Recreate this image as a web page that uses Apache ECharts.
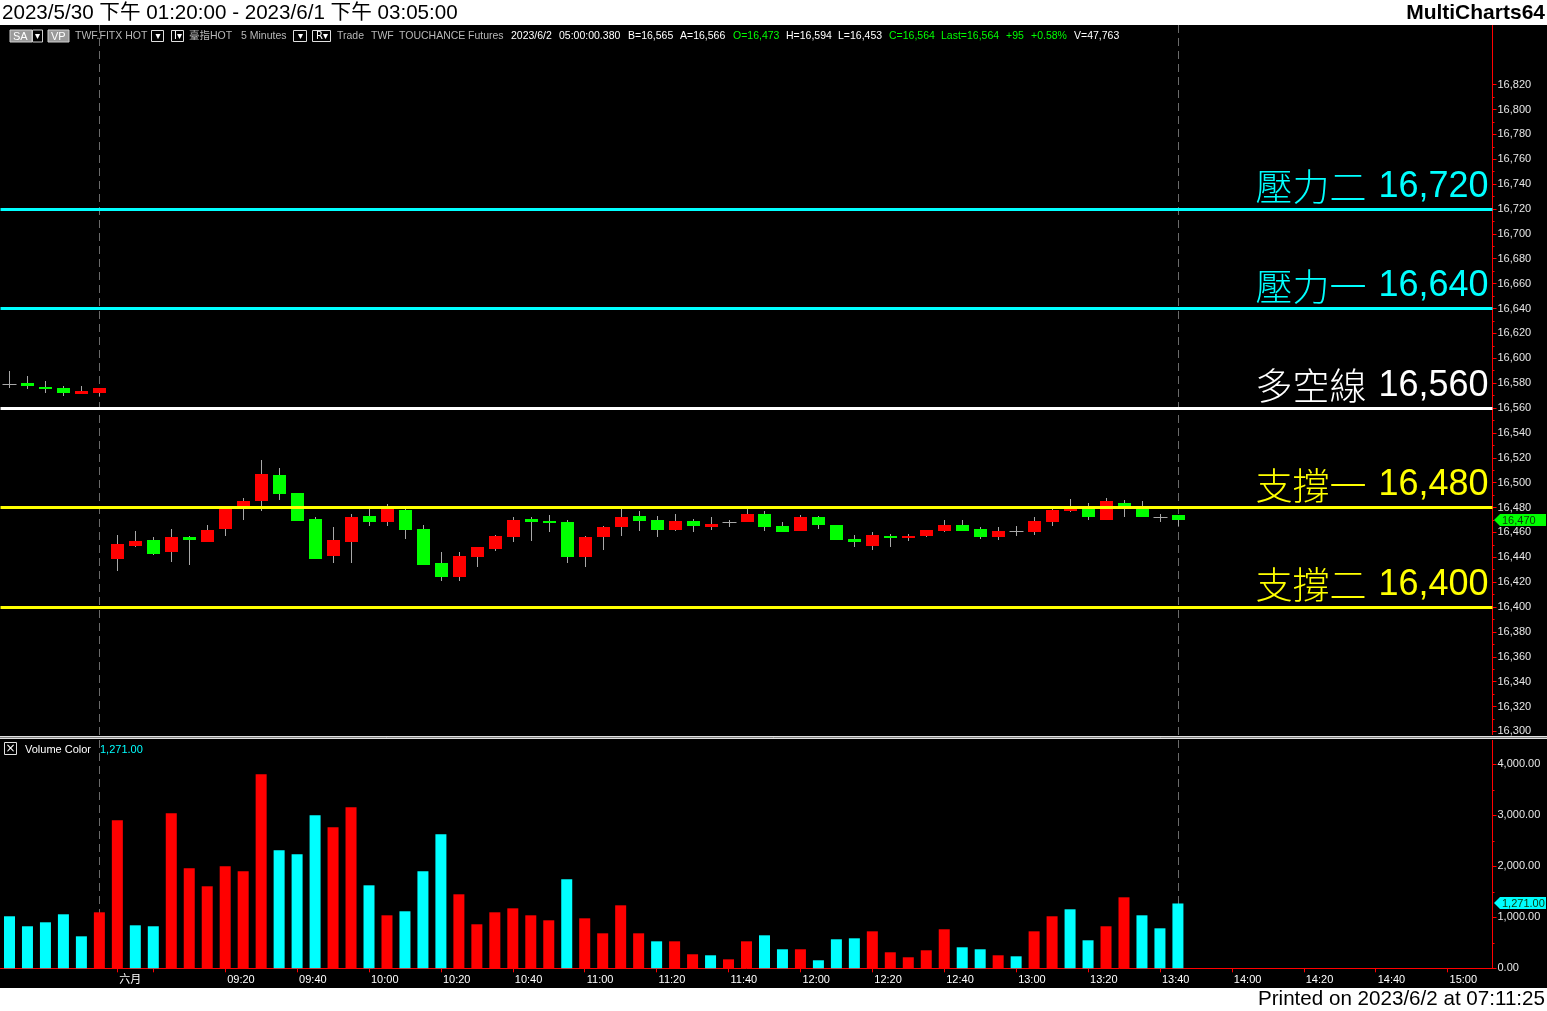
<!DOCTYPE html>
<html><head><meta charset="utf-8">
<script src="https://cdn.jsdelivr.net/npm/echarts@6/dist/echarts.min.js"></script>
<style>html,body{margin:0;padding:0;background:#fff;overflow:hidden}#c{width:1547px;height:1011px}</style>
</head><body><div id="c"></div>
<script>
// ---------------- data ----------------
const categories = [
  '13:20','13:25','13:30','13:35','13:40','13:45',
  '08:50','08:55','09:00','09:05','09:10','09:15','09:20','09:25','09:30','09:35',
  '09:40','09:45','09:50','09:55','10:00','10:05','10:10','10:15','10:20','10:25',
  '10:30','10:35','10:40','10:45','10:50','10:55','11:00','11:05','11:10','11:15',
  '11:20','11:25','11:30','11:35','11:40','11:45','11:50','11:55','12:00','12:05',
  '12:10','12:15','12:20','12:25','12:30','12:35','12:40','12:45','12:50','12:55',
  '13:00','13:05','13:10','13:15','13:20','13:25','13:30','13:35','13:40','13:45',
  '13:50','13:55','14:00','14:05','14:10','14:15','14:20','14:25','14:30','14:35',
  '14:40','14:45','14:50','14:55','15:00','15:05','15:10'
];
const opens  = [16579,16580,16577,16576,16571,16572,
  16439,16449,16454,16444,16456,16452,16463,16480,16485,16506,16492,16471,16441,16452,
  16473,16468,16478,16463,16435,16424,16440,16447,16456,16471,16469,16468,16440,16456,
  16464,16473,16470,16462,16469,16464,16468,16468,16475,16465,16461,16472,16466,16455,
  16449,16457,16456,16457,16461,16466,16463,16456,16461,16460,16468,16477,16481,16470,
  16484,16480,16472,16474];
const closes = [16579,16578,16575,16572,16574,16576,
  16451,16453,16443,16456,16454,16462,16480,16485,16507,16491,16469,16439,16454,16472,
  16468,16479,16462,16434,16424,16441,16448,16457,16470,16468,16468,16440,16456,16464,
  16472,16469,16462,16469,16465,16467,16468,16475,16464,16460,16472,16466,16454,16452,
  16458,16456,16457,16462,16466,16461,16456,16461,16461,16469,16478,16480,16472,16485,
  16481,16472,16472,16470];
const lows   = [16576,16575,16572,16570,16571,16570,
  16429,16448,16442,16436,16434,16452,16457,16470,16477,16486,16469,16439,16435,16435,
  16465,16465,16455,16434,16421,16421,16432,16445,16452,16453,16460,16435,16432,16446,
  16457,16461,16456,16461,16460,16462,16464,16468,16461,16460,16461,16463,16454,16448,
  16446,16448,16453,16456,16460,16461,16455,16454,16457,16458,16465,16476,16470,16470,
  16472,16472,16468,16465];
const highs  = [16590,16586,16582,16578,16578,16576,
  16458,16461,16456,16463,16457,16466,16481,16488,16518,16512,16492,16472,16464,16475,
  16479,16483,16479,16466,16444,16444,16448,16458,16472,16472,16474,16470,16457,16465,
  16479,16477,16473,16475,16471,16472,16470,16479,16477,16468,16474,16473,16466,16458,
  16460,16459,16459,16462,16470,16470,16464,16464,16465,16472,16479,16487,16484,16488,
  16486,16485,16475,16474];
const volumes = [1020,824,902,1059,627,1098,
  2902,843,824,3039,1961,1608,2000,1902,3804,2314,2235,3000,2765,3157,
  1627,1039,1118,1902,2627,1451,863,1098,1176,1039,941,1745,980,686,
  1235,686,529,529,275,255,176,529,647,373,373,157,569,588,
  725,314,216,353,765,412,373,255,235,725,1020,1157,549,824,
  1392,1039,784,1271];
// 1 = red (up volume colour), 0 = cyan
const volumeUp = [0,0,0,0,0,1,
  1,0,0,1,1,1,1,1,1,0,0,0,1,1,
  0,1,0,0,0,1,1,1,1,1,1,0,1,1,
  1,1,0,1,1,0,1,1,0,0,1,0,0,0,
  1,1,1,1,1,0,0,1,0,1,1,0,0,1,
  1,0,0,0];
const levelValues = [16720, 16640, 16560, 16480, 16400];
const levelNames  = ['壓力二', '壓力一', '多空線', '支撐一', '支撐二'];
const priceMin = 16300, priceMax = 16820, priceStep = 20;
const volMin = 0, volMax = 4000, volStep = 1000;
const lastPrice = 16470, lastVolume = 1271;
const sessionEndIdx = [5, 65];
const monthLabelIdx = 6;   // 六月
const monthLabel = '六月';

// ---------------- styles / layout ----------------
const RED = '#ff0000', GREEN = '#00ff00', CYAN = '#00ffff', GREY = '#a8a8a8';
const levelColors = [CYAN, CYAN, '#ffffff', '#ffff00', '#ffff00'];
const FONT = "'Liberation Sans', 'Noto Sans CJK TC', sans-serif";
const CJK = "'Noto Sans CJK TC', sans-serif";
const PLOT_L = 0.5, PLOT_W = 1492;

const fmt = v => v.toLocaleString('en-US');
const fmt2 = v => v.toLocaleString('en-US', {minimumFractionDigits: 2, maximumFractionDigits: 2});

const candleData = opens.map((o, i) => [i, o, closes[i], lows[i], highs[i]]);
const volData = volumes.map((v, i) => ({value: v, itemStyle: {color: volumeUp[i] ? RED : CYAN}}));

function renderCandle(params, api) {
  const i = api.value(0), o = api.value(1), c = api.value(2), l = api.value(3), h = api.value(4);
  const po = api.coord([i, o]), pc = api.coord([i, c]), pl = api.coord([i, l]), ph = api.coord([i, h]);
  const x = Math.round(po[0]);
  const ch = [{type: 'line', shape: {x1: x + 0.5, y1: Math.round(ph[1]), x2: x + 0.5, y2: Math.round(pl[1])},
               style: {stroke: GREY, lineWidth: 1}}];
  if (o === c) {
    const y = Math.round(po[1]) + 0.5;
    ch.push({type: 'line', shape: {x1: x - 6.5, y1: y, x2: x + 7.5, y2: y}, style: {stroke: GREY, lineWidth: 1}});
  } else {
    const top = Math.round(Math.min(po[1], pc[1])), bot = Math.round(Math.max(po[1], pc[1]));
    ch.push({type: 'rect', shape: {x: x - 6, y: top, width: 13, height: Math.max(bot - top, 2)},
             style: {fill: c > o ? RED : GREEN}});
  }
  return {type: 'group', children: ch};
}

const headerItems = [
  ['TWF.FITX HOT', 75, '#b8b8b8'], ['臺指HOT', 189, '#b8b8b8'], ['5 Minutes', 241, '#b8b8b8'],
  ['Trade', 337, '#b8b8b8'], ['TWF', 371, '#b8b8b8'], ['TOUCHANCE', 399, '#b8b8b8'], ['Futures', 468, '#b8b8b8'],
  ['2023/6/2', 511, '#fff'], ['05:00:00.380', 559, '#fff'], ['B=16,565', 628, '#fff'], ['A=16,566', 680, '#fff'],
  ['O=16,473', 733, GREEN], ['H=16,594', 786, '#fff'], ['L=16,453', 838, '#fff'], ['C=16,564', 889, GREEN],
  ['Last=16,564', 941, GREEN], ['+95', 1006, GREEN], ['+0.58%', 1031, GREEN], ['V=47,763', 1074, '#fff']
];
const headerBoxes = [[151, 12, '▾'], [171, 12, 'I▾'], [293, 13, '▾'], [312, 18, 'R▾']];

function baseGraphics() {
  const g = [
    {type: 'rect', shape: {x: 0, y: 0, width: 1547, height: 25}, style: {fill: '#fff'}, silent: true},
    {type: 'rect', shape: {x: 0, y: 988, width: 1547, height: 23}, style: {fill: '#fff'}, silent: true},
    {type: 'text', x: 2, y: 13, style: {text: '2023/5/30 下午 01:20:00 - 2023/6/1 下午 03:05:00', fill: '#000',
      font: '20.6px ' + FONT, textVerticalAlign: 'middle'}},
    {type: 'text', x: 1545, y: 13, style: {text: 'MultiCharts64', fill: '#000', font: 'bold 21px ' + FONT,
      textAlign: 'right', textVerticalAlign: 'middle'}},
    {type: 'text', x: 1545, y: 999, style: {text: 'Printed on 2023/6/2 at 07:11:25', fill: '#000', font: '20.6px ' + FONT,
      textAlign: 'right', textVerticalAlign: 'middle'}},
    // SA / VP buttons
    {type: 'rect', shape: {x: 10, y: 30, width: 22, height: 12}, style: {fill: '#9a9a9a', stroke: '#d0d0d0', lineWidth: 1}},
    {type: 'text', x: 13, y: 36.5, style: {text: 'SA', fill: '#fff', font: '11px ' + FONT, textVerticalAlign: 'middle'}},
    {type: 'rect', shape: {x: 32.5, y: 30, width: 10, height: 12}, style: {fill: '#000', stroke: '#d0d0d0', lineWidth: 1}},
    {type: 'text', x: 37.5, y: 36.5, style: {text: '▾', fill: '#fff', font: '10px DejaVu Sans', textAlign: 'center', textVerticalAlign: 'middle'}},
    {type: 'rect', shape: {x: 48, y: 30, width: 21, height: 12}, style: {fill: '#9a9a9a', stroke: '#d0d0d0', lineWidth: 1}},
    {type: 'text', x: 51, y: 36.5, style: {text: 'VP', fill: '#fff', font: '11px ' + FONT, textVerticalAlign: 'middle'}},
    // pane separator
    {type: 'rect', shape: {x: 0, y: 736, width: 1547, height: 3}, style: {fill: '#e0e0e0'}},
    {type: 'line', shape: {x1: 0, y1: 737.5, x2: 1547, y2: 737.5}, style: {stroke: '#808080', lineWidth: 1}},
    // red axis lines
    {type: 'line', shape: {x1: 1492.5, y1: 25, x2: 1492.5, y2: 735}, style: {stroke: RED, lineWidth: 1}},
    {type: 'line', shape: {x1: 1492.5, y1: 740, x2: 1492.5, y2: 969}, style: {stroke: RED, lineWidth: 1}},
    // volume pane caption
    {type: 'rect', shape: {x: 4.5, y: 742.5, width: 12, height: 12}, style: {fill: '#000', stroke: '#e0e0e0', lineWidth: 1}},
    {type: 'text', x: 10.5, y: 749, style: {text: '×', fill: '#fff', font: '12px DejaVu Sans', textAlign: 'center', textVerticalAlign: 'middle'}},
    {type: 'text', x: 25, y: 749.5, style: {text: 'Volume Color', fill: '#fff', font: '11px ' + FONT, textVerticalAlign: 'middle'}},
    {type: 'text', x: 100, y: 749.5, style: {text: fmt2(lastVolume), fill: CYAN, font: '11px ' + FONT, textVerticalAlign: 'middle'}}
  ];
  headerItems.forEach(([t, x, c]) => g.push({type: 'text', x: x, y: 36.5,
    style: {text: t, fill: c, font: '10.5px ' + FONT, textVerticalAlign: 'middle'}}));
  headerBoxes.forEach(([x, w, t]) => {
    g.push({type: 'rect', shape: {x: x + 0.5, y: 30.5, width: w, height: 11}, style: {fill: '#000', stroke: '#e0e0e0', lineWidth: 1}});
    g.push({type: 'text', x: x + w / 2 + 1, y: 36.5, style: {text: t, fill: '#fff', font: '10px DejaVu Sans', textAlign: 'center', textVerticalAlign: 'middle'}});
  });
  return g;
}

const chart = echarts.init(document.getElementById('c'), null, {renderer: 'canvas', width: 1547, height: 1011});

const labelShown = idx => idx === monthLabelIdx || (idx >= 12 && (idx - 8) % 4 === 0);
const tickShown = idx => idx === monthLabelIdx || (idx >= 8 && (idx - 8) % 4 === 0);

const option = {
  animation: false,
  backgroundColor: '#000',
  grid: [
    {left: PLOT_L, top: 84.6, width: PLOT_W, height: 646.8},
    {left: PLOT_L, top: 764.3, width: PLOT_W, height: 204}
  ],
  xAxis: [
    {type: 'category', gridIndex: 0, data: categories, boundaryGap: true, show: false},
    {type: 'category', gridIndex: 1, data: categories, boundaryGap: true,
     axisLine: {lineStyle: {color: RED, width: 1}},
     axisTick: {show: true, alignWithLabel: true, length: 4, interval: tickShown, lineStyle: {color: RED}},
     axisLabel: {interval: labelShown, align: 'left', margin: 6, padding: [0, 0, 0, 2], color: '#ffffff', fontSize: 11, fontFamily: FONT,
                 hideOverlap: false,
                 formatter: (v, idx) => idx === monthLabelIdx ? monthLabel : v},
     splitLine: {show: false}}
  ],
  yAxis: [
    {type: 'value', gridIndex: 0, position: 'right', min: priceMin, max: priceMax, interval: priceStep,
     axisLine: {show: false},
     axisTick: {show: true, length: 4, lineStyle: {color: RED}},
     minorTick: {show: true, splitNumber: 2, length: 2, lineStyle: {color: RED}},
     splitLine: {show: false},
     axisLabel: {color: '#e6e6e6', fontSize: 11, fontFamily: FONT, margin: 5, formatter: v => fmt(v)}},
    {type: 'value', gridIndex: 1, position: 'right', min: volMin, max: volMax, interval: volStep,
     axisLine: {show: false},
     axisTick: {show: true, length: 4, lineStyle: {color: RED}},
     minorTick: {show: true, splitNumber: 2, length: 2, lineStyle: {color: RED}},
     splitLine: {show: false},
     axisLabel: {color: '#e6e6e6', fontSize: 11, fontFamily: FONT, margin: 5, formatter: v => fmt2(v)}}
  ],
  series: [
    {type: 'custom', name: 'Price', xAxisIndex: 0, yAxisIndex: 0, data: candleData,
     encode: {x: 0, y: [1, 2, 3, 4]}, renderItem: renderCandle, clip: false, z: 2,
     markLine: {
       silent: true, symbol: 'none', animation: false,
       data: levelValues.map((v, k) => ({
         yAxis: v,
         lineStyle: {color: levelColors[k], width: 3, type: 'solid'},
         label: {show: true, position: 'insideEndTop', distance: [4, 2],
                 formatter: '{c|' + levelNames[k] + '}{s|\u00a0}{n|' + fmt(v) + '}',
                 color: levelColors[k],
                 rich: {
                   c: {color: levelColors[k], fontSize: 37, fontFamily: CJK, fontWeight: 300, lineHeight: 40},
                   s: {color: levelColors[k], fontSize: 36, fontFamily: FONT, lineHeight: 40, width: 12},
                   n: {color: levelColors[k], fontSize: 36, fontFamily: FONT, lineHeight: 40}
                 }}
       }))
     }},
    {type: 'bar', name: 'Volume', xAxisIndex: 1, yAxisIndex: 1, data: volData, barWidth: 11}
  ],
  graphic: baseGraphics()
};
chart.setOption(option);

// tags & session lines positioned through the axes
const extra = [];
sessionEndIdx.forEach(idx => {
  const x = Math.round(chart.convertToPixel({xAxisIndex: 1}, idx)) + 0.5;
  extra.push({type: 'line', shape: {x1: x, y1: 25, x2: x, y2: 735}, style: {stroke: '#6a6a6a', lineWidth: 1, lineDash: [8, 5]}, z: 1});
  extra.push({type: 'line', shape: {x1: x, y1: 740, x2: x, y2: 968}, style: {stroke: '#6a6a6a', lineWidth: 1, lineDash: [8, 5]}, z: 1});
});
function tag(y, text, fill) {
  y = Math.round(y);
  extra.push({type: 'polygon', shape: {points: [[1494, y], [1500, y - 6], [1546, y - 6], [1546, y + 6], [1500, y + 6]]},
              style: {fill: fill}, z: 20});
  extra.push({type: 'text', x: 1502, y: y + 0.5, style: {text: text, fill: '#0a3a0a', font: '11px ' + FONT, textVerticalAlign: 'middle'}, z: 21});
}
tag(chart.convertToPixel({yAxisIndex: 0}, lastPrice), fmt(lastPrice), GREEN);
tag(chart.convertToPixel({yAxisIndex: 1}, lastVolume), fmt2(lastVolume), CYAN);
chart.setOption({graphic: baseGraphics().concat(extra)}, {replaceMerge: ['graphic']});
</script>
</body></html>
